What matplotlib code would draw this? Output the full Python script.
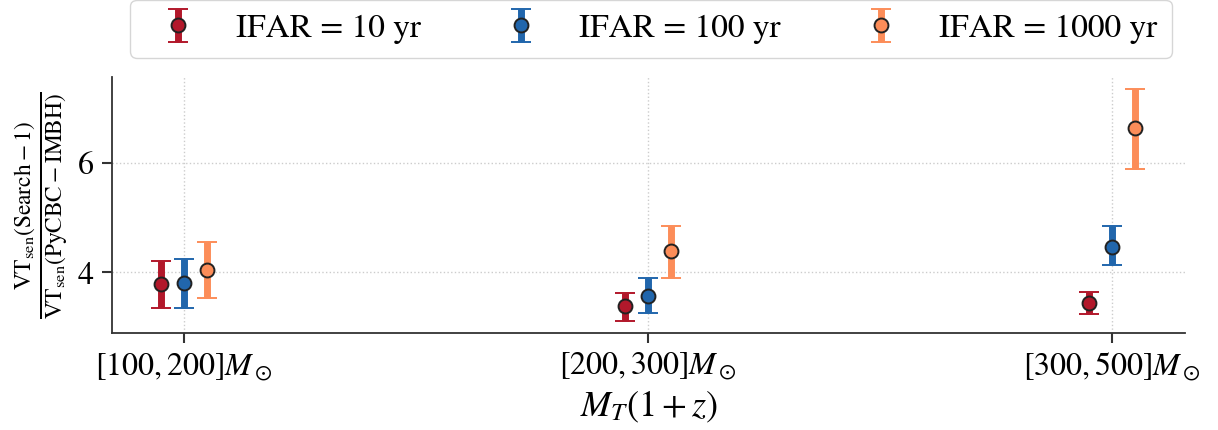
import numpy as np
import matplotlib
matplotlib.use("Agg")
import matplotlib.pyplot as plt

plt.rcParams['font.family'] = ['STIXGeneral', 'DejaVu Serif']
plt.rcParams['mathtext.fontset'] = 'stix'

bins = [r'$[100, 200]M_\odot$', r'$[200, 300]M_\odot$', r'$[300, 500]M_\odot$']
labels = ['IFAR = 10 yr', 'IFAR = 100 yr', 'IFAR = 1000 yr']
colors = ['#b2182b', '#2166ac', '#fc8d59']

# central values and lower/upper bounds per IFAR
vals = [[3.78, 3.38, 3.45],
        [3.80, 3.56, 4.47],
        [4.04, 4.38, 6.62]]
lows = [[3.35, 3.11, 3.24],
        [3.35, 3.25, 4.13],
        [3.53, 3.89, 5.89]]
highs = [[4.20, 3.62, 3.65],
         [4.25, 3.89, 4.84],
         [4.55, 4.85, 7.33]]
offsets = [-0.05, 0.0, 0.05]

fig, ax = plt.subplots(figsize=(12.18, 4.3), dpi=100)
fig.subplots_adjust(left=0.092, right=0.973, top=0.82, bottom=0.225)

x = np.arange(len(bins))
for i in range(3):
    v = np.array(vals[i])
    err = [v - np.array(lows[i]), np.array(highs[i]) - v]
    ax.errorbar(x + offsets[i], v, yerr=err, fmt='o', color=colors[i],
                ecolor=colors[i], elinewidth=5, capsize=7, capthick=3.4,
                markersize=10, markeredgecolor='#222222', markeredgewidth=1.4,
                label=labels[i])

ax.set_xlim(-0.155, 2.157)
ax.set_ylim(2.89, 7.55)
ax.set_yticks([4, 6])
ax.set_xticks(x)
ax.set_xticklabels(bins)
ax.tick_params(axis='both', labelsize=23, length=7, width=1.5, color='#333333', pad=6)
ax.grid(True, linestyle=':', color='#cccccc', linewidth=1)
for s in ['top', 'right']:
    ax.spines[s].set_visible(False)
for s in ['left', 'bottom']:
    ax.spines[s].set_color('#333333')
    ax.spines[s].set_linewidth(1.3)

ax.set_xlabel(r'$M_T(1+z)$', fontsize=26, labelpad=4)
ax.set_ylabel(r'$\frac{\mathrm{VT_{sen}(Search-1)}}{\mathrm{VT_{sen}(PyCBC-IMBH)}}$',
              fontsize=24, labelpad=6)

fig.legend(loc='lower center', bbox_to_anchor=(0.5345, 1 - 58 / 430), ncol=3,
           fontsize=24, frameon=True, columnspacing=2.0, handlelength=2,
           handletextpad=0.75, borderpad=0.42, borderaxespad=0, fancybox=True,
           edgecolor='#cccccc')

fig.savefig('out.png', dpi=100)
